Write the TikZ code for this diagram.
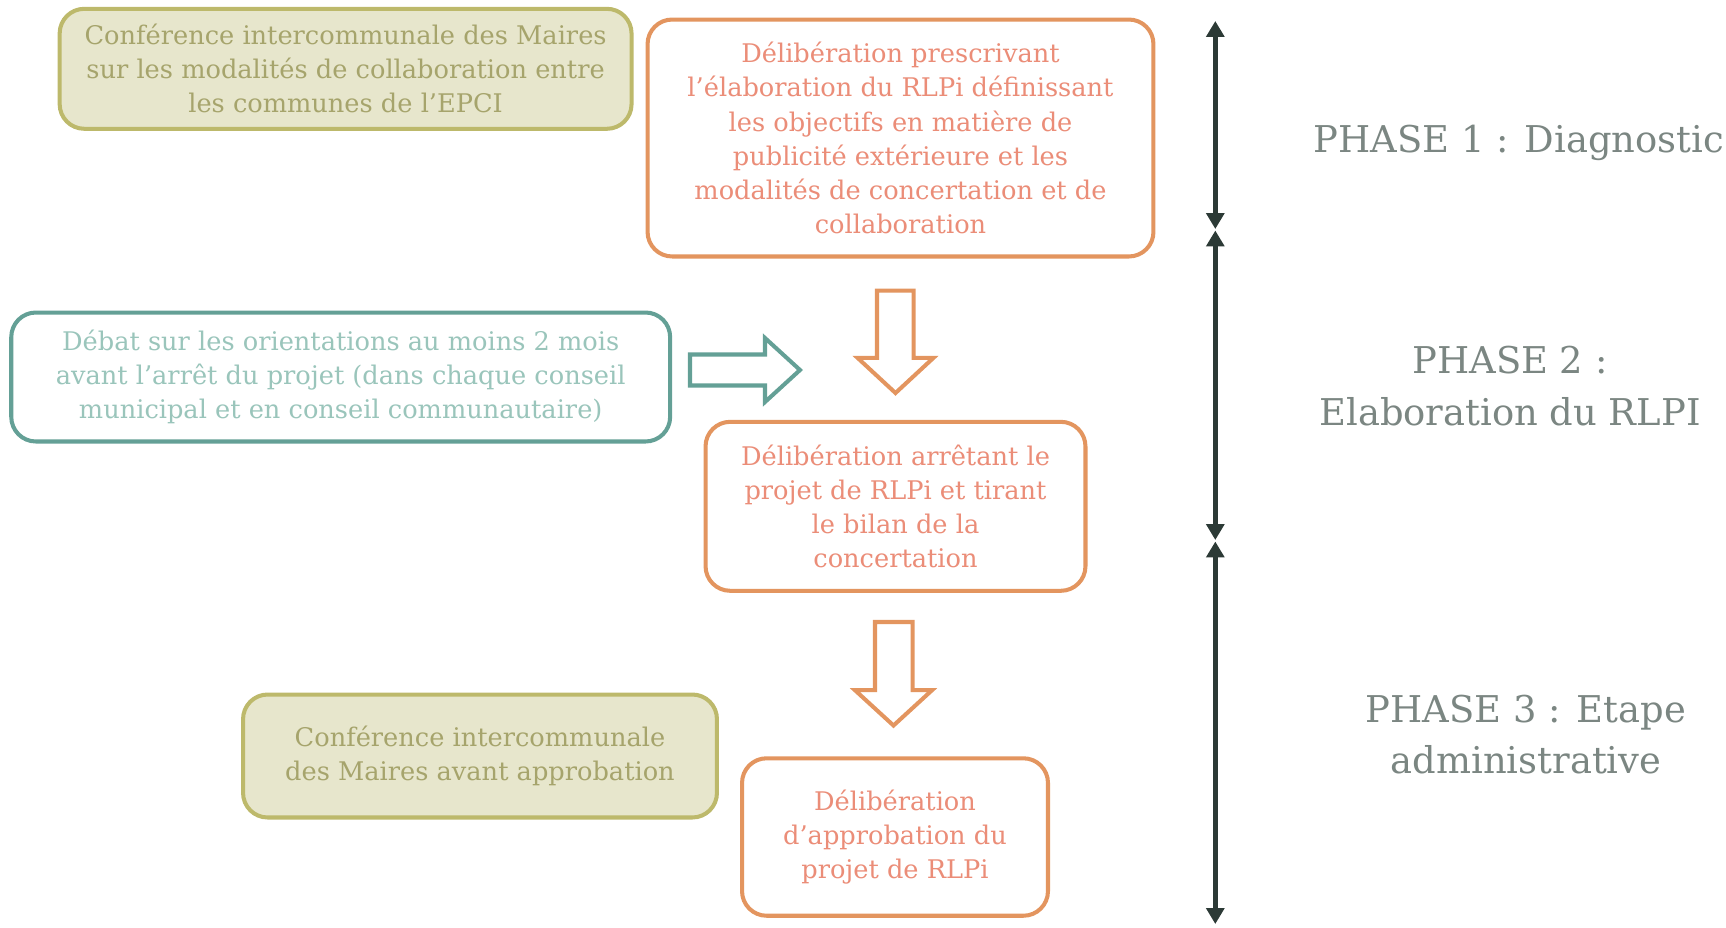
\documentclass[tikz,border=0pt]{standalone}
\usepackage{fontspec}
\setmainfont{DejaVu Serif}
\usetikzlibrary{arrows.meta}
\definecolor{olivedraw}{HTML}{BDB96B}
\definecolor{olivefill}{HTML}{E7E6CC}
\definecolor{olivetext}{HTML}{A6A46C}
\definecolor{orangedraw}{HTML}{E3955F}
\definecolor{orangetext}{HTML}{EB8D78}
\definecolor{tealdraw}{HTML}{64A096}
\definecolor{tealtext}{HTML}{9AC5BB}
\definecolor{axiscolor}{HTML}{2C3A36}
\definecolor{phasecolor}{HTML}{7B8682}
\tikzset{
	box/.style={rounded corners=14pt,line width=2.3pt,align=center,inner sep=0pt,font=\fontsize{14.6}{19.4}\selectfont},
	olivebox/.style={box,draw=olivedraw,fill=olivefill,text=olivetext},
	orangebox/.style={box,draw=orangedraw,fill=white,text=orangetext},
	tealbox/.style={box,draw=tealdraw,fill=white,text=tealtext},
	blockarrow/.style={line width=2.3pt,line join=miter,fill=white},
	phaseline/.style={{Triangle[width=10pt,length=9pt]}-{Triangle[width=10pt,length=9pt]},line width=2.8pt,draw=axiscolor},
	phase/.style={align=center,text=phasecolor,font=\fontsize{21}{29.5}\selectfont}
}
\begin{document}
\begin{tikzpicture}[x=0.02cm,y=-0.02cm]
			\useasboundingbox (0,0) rectangle (1726,927);
			%cadres
			\node (confA) at (345.6,68.8)[olivebox,minimum width=11.44cm,minimum height=2.4cm]{Conférence intercommunale des Maires\\sur les modalités de collaboration entre\\les communes de l’EPCI};
			\node (prescr) at (900.5,138)[orangebox,minimum width=10.12cm,minimum height=4.74cm]{Délibération prescrivant\\l’élaboration du RLPi définissant\\les objectifs en matière de\\publicité extérieure et les\\modalités de concertation et de\\collaboration};
			\node (debat) at (340.7,377)[tealbox,minimum width=13.18cm,minimum height=2.58cm]{Débat sur les orientations au moins 2 mois\\avant l’arrêt du projet (dans chaque conseil\\municipal et en conseil communautaire)};
			\node (arret) at (895.5,506.3)[orangebox,minimum width=7.6cm,minimum height=3.38cm]{Délibération arrêtant le\\projet de RLPi et tirant\\le bilan de la\\concertation};
			\node (confB) at (480,756)[olivebox,minimum width=9.48cm,minimum height=2.46cm]{Conférence intercommunale\\des Maires avant approbation};
			\node (approb) at (895,837)[orangebox,minimum width=6.12cm,minimum height=3.15cm]{Délibération\\d’approbation du\\projet de RLPi};
			%flèches
			\draw[blockarrow,draw=tealdraw](690,354.5)--(765,354.5)--(765,338)--(800,370)--(765,402)--(765,385.5)--(690,385.5)--cycle;
			\draw[blockarrow,draw=orangedraw](877,290.6)--(913.6,290.6)--(913.6,357.8)--(933.5,357.8)--(895.5,393)--(857.5,357.8)--(877,357.8)--cycle;
			\draw[blockarrow,draw=orangedraw](875,622)--(912.6,622)--(912.6,690.2)--(932,690.2)--(893.5,725.5)--(855,690.2)--(875,690.2)--cycle;
			%axe des phases
			\coordinate (p0) at (1215.3,21);
			\coordinate (p1) at (1215.3,229);
			\coordinate (p2) at (1215.3,230.5);
			\coordinate (p3) at (1215.3,540);
			\coordinate (p4) at (1215.3,541.5);
			\coordinate (p5) at (1215.3,924);
			\draw[phaseline](p0)--(p1);
			\draw[phaseline](p2)--(p3);
			\draw[phaseline](p4)--(p5);
			%phases
			\node (phaseA) at (1519,143)[phase]{PHASE 1 : Diagnostic};
			\node (phaseB) at (1510,386)[phase]{PHASE 2 :\\Elaboration du RLPI};
			\node (phaseC) at (1526,734.5)[phase]{PHASE 3 : Etape\\administrative};
		\end{tikzpicture}
\end{document}
